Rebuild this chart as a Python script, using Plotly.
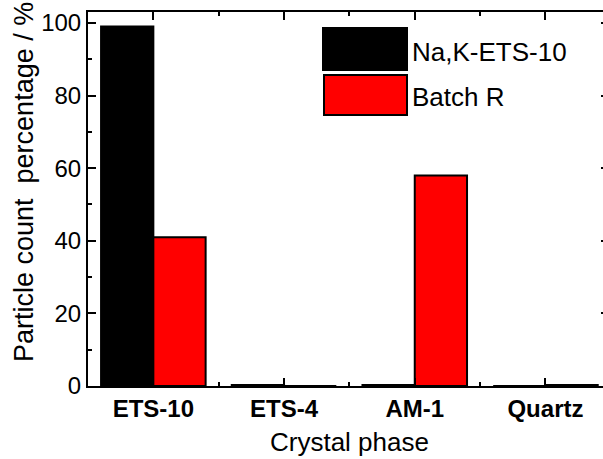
import plotly.graph_objects as go

categories = ["ETS-10", "ETS-4", "AM-1", "Quartz"]
series_names = ["Na,K-ETS-10", "Batch R"]
na_k_ets10 = [99.0, 0.3, 0.3, 0.0]
batch_r = [41.0, 0.0, 58.0, 0.3]
y_ticks = [0, 20, 40, 60, 80, 100]

W, H = 603, 459
L, R, T, B = 88, 0, 12, 73
pw, ph = W - L - R, H - T - B

xpos = list(range(len(categories)))

fig = go.Figure()
fig.add_trace(go.Bar(x=xpos, y=na_k_ets10, name=series_names[0],
                     marker=dict(color="#000000", line=dict(color="#000000", width=2)),
                     showlegend=False))
fig.add_trace(go.Bar(x=xpos, y=batch_r, name=series_names[1],
                     marker=dict(color="#ff0000", line=dict(color="#000000", width=2)),
                     showlegend=False))
# invisible trace to carry right-hand axis
fig.add_trace(go.Scatter(x=[None], y=[None], yaxis="y2", showlegend=False, hoverinfo="skip"))

font_family = "Arial, Liberation Sans, sans-serif"

fig.update_layout(
    template="none",
    width=W, height=H,
    margin=dict(l=L, r=R, t=T, b=B, pad=0, autoexpand=False),
    paper_bgcolor="white", plot_bgcolor="white",
    barmode="group", bargap=0.2, bargroupgap=0.0,
    font=dict(family=font_family, color="black", size=24),
    xaxis=dict(
        range=[-0.5, -0.5 + pw / 130.7], automargin=False,
        tickvals=xpos, ticktext=categories,
        tickfont=dict(family=font_family, size=24, color="black", weight="bold"),
        ticks="inside", ticklen=8, tickwidth=2, tickcolor="black",
        minor=dict(tickvals=[-0.5, 0.5, 1.5, 2.5, 3.5], ticks="inside", ticklen=4,
                   tickwidth=2, tickcolor="black"),
        showline=True, linecolor="black", linewidth=2, mirror="ticks",
        showgrid=False, zeroline=False, fixedrange=True,
    ),
    yaxis=dict(
        range=[0, 103], automargin=False,
        tickvals=y_ticks,
        tickfont=dict(family=font_family, size=24, color="black"),
        ticks="inside", ticklen=8, tickwidth=2, tickcolor="black",
        minor=dict(dtick=10, tick0=0, ticks="inside", ticklen=4, tickwidth=2, tickcolor="black",
                   showgrid=False),
        showline=True, linecolor="black", linewidth=2,
        showgrid=False, zeroline=False,
    ),
    yaxis2=dict(
        range=[0, 103], overlaying="y", side="right", automargin=False,
        tickvals=y_ticks, showticklabels=False,
        ticks="inside", ticklen=2, tickwidth=2, tickcolor="black",
        showline=False, showgrid=False, zeroline=False,
    ),
)

def px(x):
    return (x - L) / pw

def py(y):
    return (H - B - y) / ph

# legend drawn manually (large swatches)
fig.add_shape(type="rect", xref="paper", yref="paper",
              x0=px(323), x1=px(407), y0=py(70), y1=py(28),
              fillcolor="#000000", line=dict(color="#000000", width=2))
fig.add_shape(type="rect", xref="paper", yref="paper",
              x0=px(324), x1=px(407), y0=py(115), y1=py(75),
              fillcolor="#ff0000", line=dict(color="#000000", width=2))
fig.add_annotation(xref="paper", yref="paper", x=px(410), y=py(52),
                   text=series_names[0], showarrow=False, xanchor="left", yanchor="middle",
                   font=dict(family=font_family, size=26, color="black"))
fig.add_annotation(xref="paper", yref="paper", x=px(410), y=py(97),
                   text=series_names[1], showarrow=False, xanchor="left", yanchor="middle",
                   font=dict(family=font_family, size=26, color="black"))

# axis titles
fig.add_annotation(xref="paper", yref="paper", x=px(349), y=py(442),
                   text="Crystal phase", showarrow=False, xanchor="center", yanchor="middle",
                   font=dict(family=font_family, size=26, color="black"))
fig.add_annotation(xref="paper", yref="paper", x=px(24), y=py(182),
                   text="Particle count  percentage / %", textangle=-90, showarrow=False,
                   xanchor="center", yanchor="middle",
                   font=dict(family=font_family, size=27, color="black"))

fig.write_html(
    "out.html",
    config={"displayModeBar": False},
    post_script="document.body.style.margin='0';document.body.style.overflow='hidden';",
)
